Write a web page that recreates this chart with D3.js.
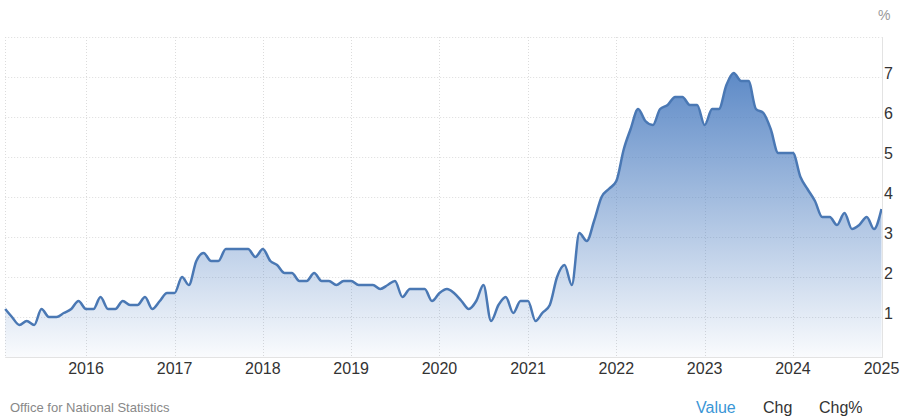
<!DOCTYPE html>
<html>
<head>
<meta charset="utf-8">
<script src="https://cdn.jsdelivr.net/npm/d3@7"></script>
<style>
  html, body { margin: 0; padding: 0; background: #fff; }
  svg { display: block; font-family: "Liberation Sans", Arial, sans-serif; }
</style>
</head>
<body>
<svg id="chart" width="900" height="419"></svg>
<script>
// UK core inflation rate, monthly, Feb 2015 - Jan 2025 (%)
const startMonth = "2015-02";
const values2015 = [1.2, 1.0, 0.8, 0.9, 0.8, 1.2, 1.0, 1.0, 1.1, 1.2, 1.4]; // Feb-Dec
const values2016 = [1.2, 1.2, 1.5, 1.2, 1.2, 1.4, 1.3, 1.3, 1.5, 1.2, 1.4, 1.6];
const values2017 = [1.6, 2.0, 1.8, 2.4, 2.6, 2.4, 2.4, 2.7, 2.7, 2.7, 2.7, 2.5];
const values2018 = [2.7, 2.4, 2.3, 2.1, 2.1, 1.9, 1.9, 2.1, 1.9, 1.9, 1.8, 1.9];
const values2019 = [1.9, 1.8, 1.8, 1.8, 1.7, 1.8, 1.9, 1.5, 1.7, 1.7, 1.7, 1.4];
const values2020 = [1.6, 1.7, 1.6, 1.4, 1.2, 1.4, 1.8, 0.9, 1.3, 1.5, 1.1, 1.4];
const values2021 = [1.4, 0.9, 1.1, 1.3, 2.0, 2.3, 1.8, 3.1, 2.9, 3.4, 4.0, 4.2];
const values2022 = [4.4, 5.2, 5.7, 6.2, 5.9, 5.8, 6.2, 6.3, 6.5, 6.5, 6.3, 6.3];
const values2023 = [5.8, 6.2, 6.2, 6.8, 7.1, 6.9, 6.9, 6.2, 6.1, 5.7, 5.1, 5.1];
const values2024 = [5.1, 4.5, 4.2, 3.9, 3.5, 3.5, 3.3, 3.6, 3.2, 3.3, 3.5, 3.2];
const values2025 = [3.7]; // Jan

const xTickYears = [2016, 2017, 2018, 2019, 2020, 2021, 2022, 2023, 2024, 2025];
const yTicks = [1, 2, 3, 4, 5, 6, 7];
const unitLabel = "%";
const sourceLabel = "Office for National Statistics";
const tabLabels = ["Value", "Chg", "Chg%"];

// build monthly series
const allValues = [].concat(values2015, values2016, values2017, values2018, values2019,
  values2020, values2021, values2022, values2023, values2024, values2025);
const [sy, sm] = startMonth.split("-").map(Number);
const data = allValues.map((v, i) => ({ date: new Date(sy, sm - 1 + i, 1), value: v }));

const svg = d3.select("#chart");

const x = d3.scaleTime()
  .domain([new Date(2016, 0, 1), new Date(2025, 0, 1)])
  .range([86, 881.5]);
const y = d3.scaleLinear().domain([0, 8]).range([357, 37]);

const plotLeft = x(data[0].date);
const plotRight = x(data[data.length - 1].date);
const plotTop = y(8), plotBottom = y(0);

// gradient
const defs = svg.append("defs");
const grad = defs.append("linearGradient")
  .attr("id", "areaGrad").attr("gradientUnits", "userSpaceOnUse")
  .attr("x1", 0).attr("x2", 0).attr("y1", plotTop).attr("y2", plotBottom);
grad.append("stop").attr("offset", "0%").attr("stop-color", "#4a7cc0").attr("stop-opacity", 1);
grad.append("stop").attr("offset", "100%").attr("stop-color", "#4a7cc0").attr("stop-opacity", 0.03);

// grid
const grid = svg.append("g");
grid.selectAll("line.h").data(yTicks.concat([8])).enter().append("line")
  .attr("x1", plotLeft).attr("x2", plotRight)
  .attr("y1", d => y(d) + 0.5).attr("y2", d => y(d) + 0.5)
  .attr("stroke", "#dcdcdc").attr("stroke-dasharray", "1,2");
grid.selectAll("line.v").data(xTickYears.slice(0, -1)).enter().append("line")
  .attr("x1", d => Math.round(x(new Date(d, 0, 1))) + 0.5)
  .attr("x2", d => Math.round(x(new Date(d, 0, 1))) + 0.5)
  .attr("y1", plotTop).attr("y2", plotBottom)
  .attr("stroke", "#dcdcdc").attr("stroke-dasharray", "1,2");
grid.append("line").attr("x1", Math.round(plotLeft) + 0.5).attr("x2", Math.round(plotLeft) + 0.5)
  .attr("y1", plotTop).attr("y2", plotBottom)
  .attr("stroke", "#dcdcdc").attr("stroke-dasharray", "1,2");

// area + line
const curve = d3.curveMonotoneX;
svg.append("path").datum(data)
  .attr("fill", "url(#areaGrad)")
  .attr("d", d3.area().x(d => x(d.date)).y0(plotBottom).y1(d => y(d.value)).curve(curve));
svg.append("path").datum(data)
  .attr("fill", "none").attr("stroke", "#4a78b4").attr("stroke-width", 2.5)
  .attr("stroke-linejoin", "round")
  .attr("d", d3.line().x(d => x(d.date)).y(d => y(d.value)).curve(curve));

// axis lines
svg.append("line").attr("x1", Math.round(plotRight) + 0.5).attr("x2", Math.round(plotRight) + 0.5)
  .attr("y1", plotTop).attr("y2", plotBottom + 1).attr("stroke", "#e3e3e3");
svg.append("line").attr("x1", plotLeft).attr("x2", plotRight + 1)
  .attr("y1", Math.round(plotBottom) + 0.5).attr("y2", Math.round(plotBottom) + 0.5).attr("stroke", "#e3e3e3");

// y labels (right)
svg.append("g").selectAll("text").data(yTicks).enter().append("text")
  .attr("x", 884).attr("y", d => y(d) + 2)
  .attr("font-size", 16).attr("fill", "#333")
  .text(d => d);

// x labels
svg.append("g").selectAll("text").data(xTickYears).enter().append("text")
  .attr("x", d => x(new Date(d, 0, 1))).attr("y", 374)
  .attr("text-anchor", "middle").attr("font-size", 16).attr("fill", "#333")
  .text(d => d);

// unit
svg.append("text").attr("x", 878).attr("y", 20).attr("font-size", 14).attr("fill", "#999").text(unitLabel);

// footer
svg.append("text").attr("x", 10).attr("y", 412).attr("font-size", 13).attr("fill", "#888").text(sourceLabel);
const tabX = [696, 763, 819];
svg.append("g").selectAll("text").data(tabLabels).enter().append("text")
  .attr("x", (d, i) => tabX[i]).attr("y", 413)
  .attr("font-size", 16).attr("fill", (d, i) => i === 0 ? "#3a96d6" : "#333")
  .text(d => d);
</script>
</body>
</html>
